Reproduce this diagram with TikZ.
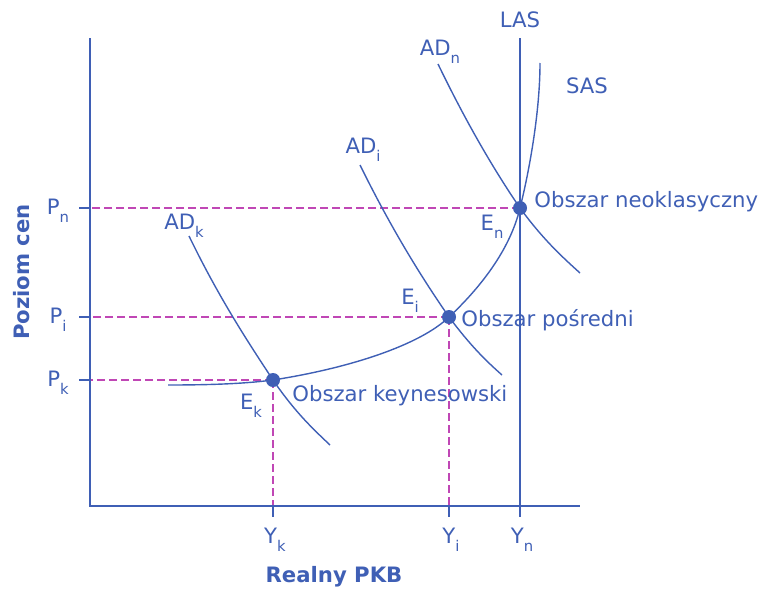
\documentclass[tikz,border=0pt]{standalone}
\usepackage{fontspec}
\setmainfont{DejaVu Sans}
\usepackage{xcolor}
\definecolor{axisblue}{HTML}{3F5FB5}
\definecolor{guidepink}{HTML}{C047B5}
\usepackage{tikz}
\usetikzlibrary{positioning,calc,backgrounds}
\newcommand{\lowidx}[1]{\raisebox{-0.7ex}{\fontsize{7.4}{8}\selectfont #1}}

\begin{document}
\begin{tikzpicture}[x=0.5pt,y=-0.5pt,
  axis/.style={axisblue,line width=0.75pt},
  curve/.style={axisblue,line width=0.7pt},
  guide/.style={guidepink,line width=0.65pt,dash pattern=on 4pt off 2pt},
  eqdot/.style={circle,fill=axisblue,inner sep=0pt,minimum size=7pt},
  lbl/.style={text=axisblue,font=\fontsize{10.6}{12}\selectfont,inner sep=1pt},
  ttl/.style={text=axisblue,font=\fontsize{10.6}{12}\selectfont\bfseries,inner sep=1pt}]
  \useasboundingbox (0,0) rectangle (759,589);

  % --- Osie ---
  \coordinate (origin) at (90,506);
  \draw[axis] (90,38) -- (origin) -- (580,506);
  \node[ttl,rotate=90] (ylab) at (22,272) {Poziom cen};
  \node[ttl] (xlab) at (334,577) {Realny PKB};

  % --- Punkty równowagi ---
  \node[eqdot] (Ek) at (273,380) {};
  \node[eqdot] (Ei) at (449,317) {};
  \node[eqdot] (En) at (520,208) {};

  % --- Linie pomocnicze (pod punktami) ---
  \begin{scope}[on background layer]
    \foreach \e in {Ek,Ei,En} {
      \draw[guide] (\e.center) -- (\e.center -| origin);
    }
    \foreach \e in {Ek,Ei} {
      \draw[guide] (\e.center) -- (\e.center |- origin);
    }
  \end{scope}

  % --- Znaczniki na osiach ---
  \foreach \e in {Ek,Ei,En} {
    \draw[axis] (\e.center -| origin) -- ++(-11,0);
    \draw[axis] (\e.center |- origin) -- ++(0,11);
  }
  \node[lbl] (Pn) at (58,211) {P\lowidx{n}};
  \node[lbl] (Pi) at (58,320) {P\lowidx{i}};
  \node[lbl] (Pk) at (58,383) {P\lowidx{k}};
  \node[lbl] (Yk) at (275,540) {Y\lowidx{k}};
  \node[lbl] (Yi) at (451,540) {Y\lowidx{i}};
  \node[lbl] (Yn) at (522,540) {Y\lowidx{n}};

  % --- LAS ---
  \draw[curve] (520,38) -- (origin -| En);
  \node[lbl] (las) at (520,20) {LAS};

  % --- SAS ---
  \draw[curve] (168,385) .. controls (220,385) and (250,383) .. (Ek.center)
    .. controls (350,368) and (420,345) .. (Ei.center)
    .. controls (480,288) and (510,250) .. (En.center)
    .. controls (530,168) and (540,110) .. (540,63);
  \node[lbl] (sas) at (587,86) {SAS};

  % --- Krzywe AD ---
  \draw[curve] (189,236) .. controls (220,300) and (250,345) .. (Ek.center)
    .. controls (295,412) and (312,428) .. (330,445);
  \draw[curve] (360,165) .. controls (392,230) and (422,278) .. (Ei.center)
    .. controls (470,345) and (485,360) .. (502,375);
  \draw[curve] (438,64) .. controls (466,122) and (494,170) .. (En.center)
    .. controls (542,238) and (560,255) .. (580,273);
  \node[lbl] (adk) at (184,226) {AD\lowidx{k}};
  \node[lbl] (adi) at (363,150) {AD\lowidx{i}};
  \node[lbl] (adn) at (440,52) {AD\lowidx{n}};

  % --- Opisy punktów ---
  \node[lbl] (ekl) at (251,406) {E\lowidx{k}};
  \node[lbl] (eil) at (410,301) {E\lowidx{i}};
  \node[lbl] (enl) at (492,227) {E\lowidx{n}};
  \node[lbl,anchor=west] (keyn) at (290,396) {Obszar keynesowski};
  \node[lbl,anchor=west] (posr) at (459,320) {Obszar pośredni};
  \node[lbl,anchor=west] (neo) at (532,202) {Obszar neoklasyczny};
\end{tikzpicture}
\end{document}
